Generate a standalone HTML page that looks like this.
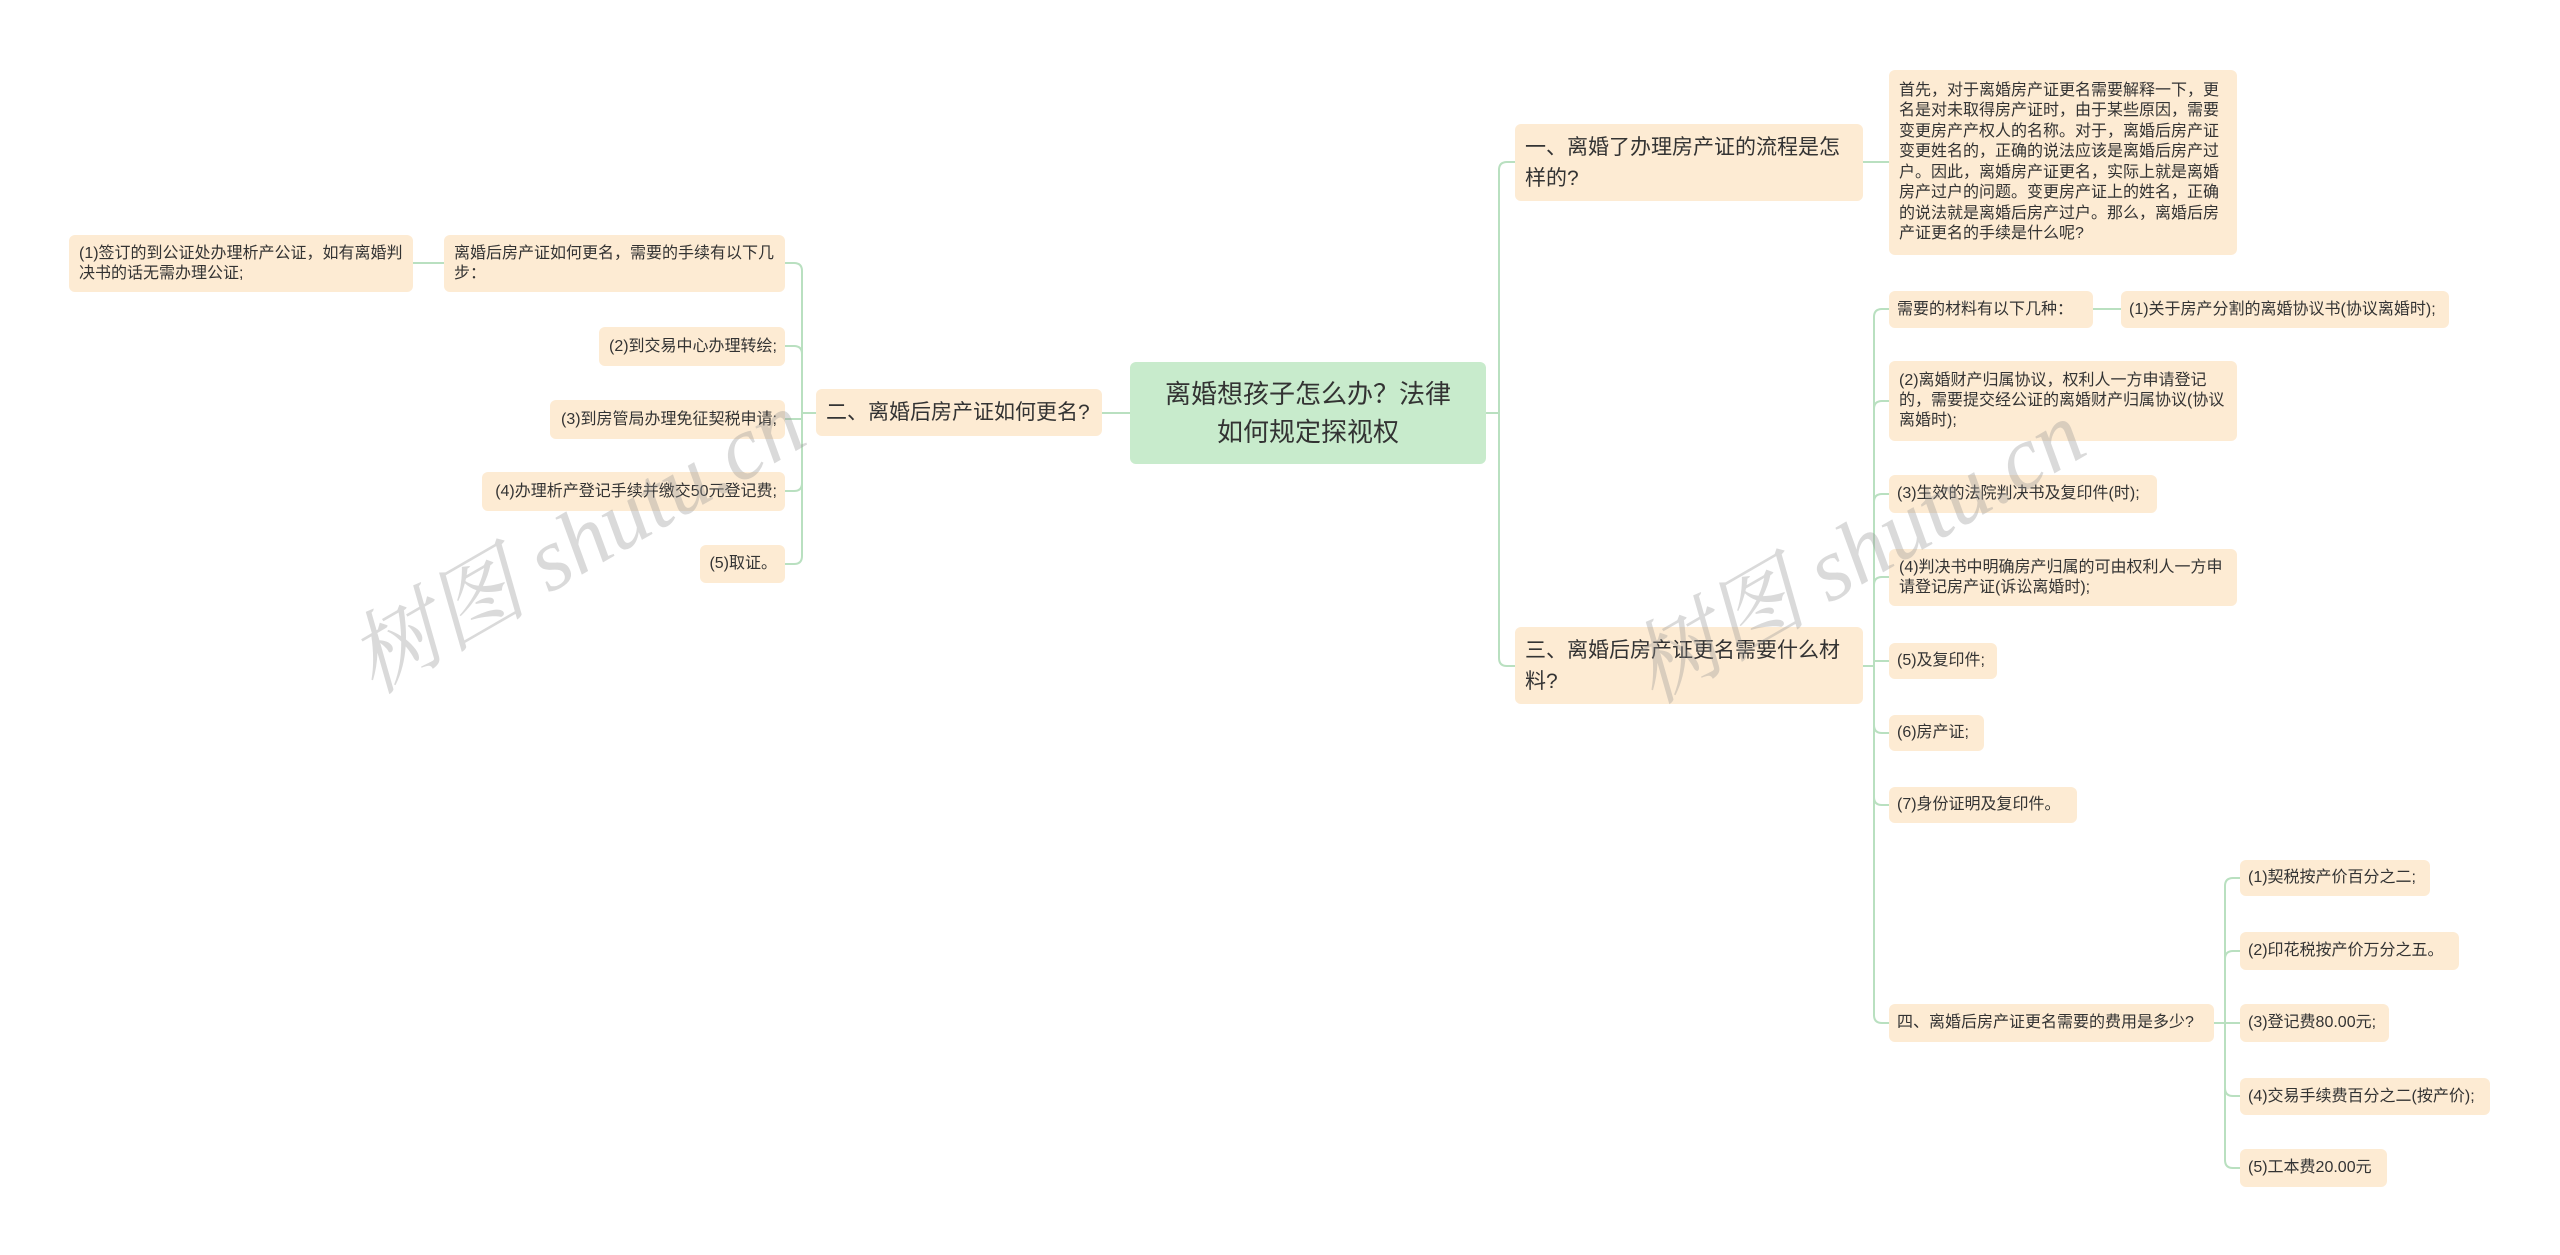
<!DOCTYPE html>
<html><head><meta charset="utf-8"><style>
body{margin:0;width:2560px;height:1255px;background:#fff;position:relative;overflow:hidden;font-family:"Liberation Sans","Noto Sans CJK SC",sans-serif;color:#333}
.n{position:absolute;background:#fdebd3;border-radius:6px;box-sizing:border-box;font-size:16px;line-height:20px;padding:0 10px;display:flex;align-items:center}
.s{white-space:nowrap;padding:0 8px}
.r{justify-content:flex-end}
.l1{font-size:21px;line-height:31px;padding:0 10px}
.root{background:#c8ebcc;font-size:26px;line-height:38px;justify-content:center;text-align:center}
.wm{position:absolute;font-family:"Liberation Serif","Noto Serif CJK SC",serif;font-size:90px;color:rgba(150,150,150,0.35);transform:rotate(-30deg);white-space:nowrap;font-style:italic}
</style></head><body>
<svg width="2560" height="1255" style="position:absolute;left:0;top:0" fill="none" stroke="#b9e0c0" stroke-width="2">
<path d="M1130 413 H1102"/>
<path d="M816 413 H802 V271 Q802 263 794 263 H785"/>
<path d="M816 413 H802 V354 Q802 346 794 346 H785"/>
<path d="M816 413 H802 V419 H785"/>
<path d="M816 413 H802 V483 Q802 491 794 491 H785"/>
<path d="M816 413 H802 V556 Q802 564 794 564 H785"/>
<path d="M444 263 H413"/>
<path d="M1486 413 H1499 V170 Q1499 162 1507 162 H1515"/>
<path d="M1486 413 H1499 V658 Q1499 666 1507 666 H1515"/>
<path d="M1863 162 H1889"/>
<path d="M1863 666 H1874 V317 Q1874 309 1882 309 H1889"/>
<path d="M1863 666 H1874 V409 Q1874 401 1882 401 H1889"/>
<path d="M1863 666 H1874 V502 Q1874 494 1882 494 H1889"/>
<path d="M1863 666 H1874 V585 Q1874 577 1882 577 H1889"/>
<path d="M1863 666 H1874 V661 H1889"/>
<path d="M1863 666 H1874 V725 Q1874 733 1882 733 H1889"/>
<path d="M1863 666 H1874 V797 Q1874 805 1882 805 H1889"/>
<path d="M1863 666 H1874 V1015 Q1874 1023 1882 1023 H1889"/>
<path d="M2093 309 H2121"/>
<path d="M2214 1023 H2225 V886 Q2225 878 2233 878 H2240"/>
<path d="M2214 1023 H2225 V959 Q2225 951 2233 951 H2240"/>
<path d="M2214 1023 H2240"/>
<path d="M2214 1023 H2225 V1088 Q2225 1096 2233 1096 H2240"/>
<path d="M2214 1023 H2225 V1160 Q2225 1168 2233 1168 H2240"/>
</svg>

<div class="n root" style="left:1130px;top:362px;width:356px;height:102px">离婚想孩子怎么办？法律<br>如何规定探视权</div>

<div class="n l1" style="left:816px;top:389px;width:286px;height:47px">二、离婚后房产证如何更名?</div>
<div class="n" style="left:444px;top:235px;width:341px;height:57px">离婚后房产证如何更名，需要的手续有以下几步：</div>
<div class="n" style="left:69px;top:235px;width:344px;height:57px">(1)签订的到公证处办理析产公证，如有离婚判决书的话无需办理公证;</div>
<div class="n s r" style="left:599px;top:327px;width:186px;height:39px">(2)到交易中心办理转绘;</div>
<div class="n s r" style="left:550px;top:400px;width:235px;height:39px">(3)到房管局办理免征契税申请;</div>
<div class="n s r" style="left:482px;top:472px;width:303px;height:39px">(4)办理析产登记手续并缴交50元登记费;</div>
<div class="n s r" style="left:700px;top:545px;width:85px;height:38px">(5)取证。</div>

<div class="n l1" style="left:1515px;top:124px;width:348px;height:77px">一、离婚了办理房产证的流程是怎样的?</div>
<div class="n" style="left:1889px;top:70px;width:348px;height:185px;line-height:20.5px">首先，对于离婚房产证更名需要解释一下，更名是对未取得房产证时，由于某些原因，需要变更房产产权人的名称。对于，离婚后房产证变更姓名的，正确的说法应该是离婚后房产过户。因此，离婚房产证更名，实际上就是离婚房产过户的问题。变更房产证上的姓名，正确的说法就是离婚后房产过户。那么，离婚后房产证更名的手续是什么呢?</div>

<div class="n l1" style="left:1515px;top:627px;width:348px;height:77px">三、离婚后房产证更名需要什么材料?</div>
<div class="n s" style="left:1889px;top:291px;width:204px;height:37px">需要的材料有以下几种：</div>
<div class="n s" style="left:2121px;top:291px;width:328px;height:37px">(1)关于房产分割的离婚协议书(协议离婚时);</div>
<div class="n" style="left:1889px;top:361px;width:348px;height:80px">(2)离婚财产归属协议，权利人一方申请登记的，需要提交经公证的离婚财产归属协议(协议离婚时);</div>
<div class="n s" style="left:1889px;top:475px;width:268px;height:38px">(3)生效的法院判决书及复印件(时);</div>
<div class="n" style="left:1889px;top:549px;width:348px;height:57px">(4)判决书中明确房产归属的可由权利人一方申请登记房产证(诉讼离婚时);</div>
<div class="n s" style="left:1889px;top:643px;width:108px;height:36px">(5)及复印件;</div>
<div class="n s" style="left:1889px;top:715px;width:95px;height:36px">(6)房产证;</div>
<div class="n s" style="left:1889px;top:787px;width:188px;height:36px">(7)身份证明及复印件。</div>
<div class="n s" style="left:1889px;top:1004px;width:325px;height:38px">四、离婚后房产证更名需要的费用是多少?</div>
<div class="n s" style="left:2240px;top:860px;width:190px;height:36px">(1)契税按产价百分之二;</div>
<div class="n s" style="left:2240px;top:932px;width:219px;height:38px">(2)印花税按产价万分之五。</div>
<div class="n s" style="left:2240px;top:1004px;width:149px;height:38px">(3)登记费80.00元;</div>
<div class="n s" style="left:2240px;top:1078px;width:250px;height:37px">(4)交易手续费百分之二(按产价);</div>
<div class="n s" style="left:2240px;top:1149px;width:147px;height:38px">(5)工本费20.00元</div>

<div class="wm" style="left:320px;top:470px">树图 shutu.cn</div>
<div class="wm" style="left:1600px;top:480px">树图 shutu.cn</div>
</body></html>
